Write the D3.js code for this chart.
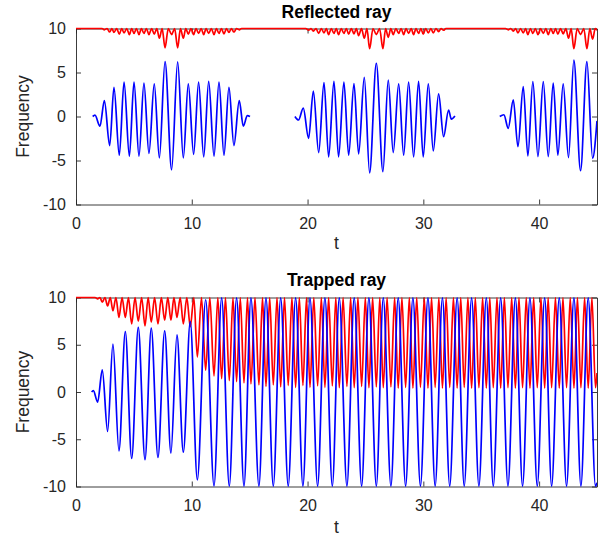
<!DOCTYPE html>
<html><head><meta charset="utf-8">
<script src="https://cdn.jsdelivr.net/npm/d3@7/dist/d3.min.js"></script>
<style>body{margin:0;background:#fff}svg{display:block}</style>
</head><body><svg id="c" width="608" height="543"></svg>
<script>
// ---------- data ----------
const xTicks = [0, 10, 20, 30, 40];
const yTicks = [-10, -5, 0, 5, 10];
const xDomain = [0, 45];
const yDomain = [-10, 10];
const titles = ["Reflected ray", "Trapped ray"];
const xLabel = "t";
const yLabel = "Frequency";

// Reflected ray: blue (three wave packets), extrema
const topBlueT1 = [1.44,1.64,2.07,2.45,2.91,3.28,3.74,4.15,4.61,5.01,5.44,5.87,6.30,6.76,7.20,7.69,8.26,8.78,9.27,9.70,10.16,10.59,11.03,11.46,11.92,12.35,12.78,13.21,13.64,14.10,14.45,14.80,15.03];
const topBlueV1 = [0,0.15,-1.1,1.8,-3.3,3.3,-4.4,3.9,-4.5,3.9,-4.5,3.8,-4.2,3.7,-4.7,6.25,-6.05,6.2,-4.7,3.7,-4.3,3.9,-4.6,4.0,-4.5,3.9,-4.4,3.3,-3.3,1.8,-1.1,0.1,0];
const topBlueT2 = [18.91,19.22,19.63,20.09,20.50,20.96,21.42,21.82,22.28,22.68,23.14,23.55,24.01,24.41,24.90,25.36,25.94,26.51,26.97,27.40,27.87,28.30,28.73,29.16,29.59,29.99,30.43,30.86,31.32,31.75,32.18,32.42,32.73];
const topBlueV2 = [0,-0.4,0.95,-2.48,2.9,-4.1,3.85,-4.6,4.0,-4.6,3.9,-4.4,3.73,-4.26,4.45,-6.4,6.05,-6.27,4.15,-4.1,3.7,-4.4,3.9,-4.6,4.0,-4.6,3.7,-3.9,2.56,-2.3,0.74,-0.3,0.05];
const topBlueT3 = [36.60,36.96,37.33,37.77,38.17,38.63,39.03,39.46,39.90,40.36,40.79,41.22,41.62,42.08,42.54,43.00,43.58,44.13,44.62,45.0];
const topBlueV3 = [0,0.2,-1.34,1.88,-3.43,3.39,-4.49,3.97,-4.55,3.97,-4.55,3.8,-4.4,3.7,-4.68,6.42,-6.16,6.23,-4.75,-0.5];

// Reflected ray: red
const topRedT = [0,2.25,2.45,2.68,2.91,3.10,3.28,3.51,3.74,3.95,4.15,4.38,4.61,4.81,5.01,5.22,5.44,5.65,5.87,6.08,6.30,6.53,6.76,6.98,7.20,7.44,7.69,7.97,8.26,8.52,8.78,9.02,9.27,9.48,9.70,9.93,10.16,10.37,10.59,10.81,11.03,11.24,11.46,11.69,11.92,12.13,12.35,12.56,12.78,13.0,13.21,13.42,13.64,13.87,14.10,14.3,
  19.85,20.09,20.30,20.50,20.73,20.96,21.19,21.42,21.62,21.82,22.05,22.28,22.48,22.68,22.91,23.14,23.35,23.55,23.78,24.01,24.21,24.41,24.66,24.90,25.13,25.36,25.65,25.94,26.22,26.51,26.74,26.97,27.19,27.40,27.63,27.87,28.08,28.30,28.51,28.73,28.95,29.16,29.37,29.59,29.79,29.99,30.21,30.43,30.65,30.86,31.09,31.32,31.53,31.75,31.95,
  37.10,37.33,37.55,37.77,37.97,38.17,38.40,38.63,38.83,39.03,39.25,39.46,39.68,39.90,40.13,40.36,40.58,40.79,41.01,41.22,41.42,41.62,41.85,42.08,42.31,42.54,42.77,43.00,43.29,43.58,43.86,44.13,44.38,44.62,44.85,45.0];
const topRedV = [10,10,9.85,10,9.6,10,9.55,10,9.35,10,9.5,10,9.3,10,9.45,10,9.3,10,9.45,10,9.3,10,9.35,10,8.9,10,7.8,10,9.3,10,7.8,10,8.9,10,9.35,10,9.3,10,9.45,10,9.3,10,9.45,10,9.3,10,9.45,10,9.4,10,9.55,10,9.6,10,9.85,10,
  10,9.8,10,9.7,10,9.45,10,9.5,10,9.3,10,9.45,10,9.3,10,9.45,10,9.35,10,9.4,10,9.2,10,8.9,10,7.7,10,9.3,10,7.7,10,9.0,10,9.3,10,9.45,10,9.3,10,9.45,10,9.3,10,9.45,10,9.35,10,9.5,10,9.5,10,9.65,10,9.8,10,
  10,9.85,10,9.7,10,9.5,10,9.5,10,9.3,10,9.45,10,9.3,10,9.45,10,9.3,10,9.45,10,9.35,10,9.4,10,8.9,10,7.7,10,9.3,10,7.7,10,8.8,10,9.8];

// Trapped ray: blue
const botBlueT = [1.35,1.50,1.87,2.27,2.73,3.19,3.71,4.26,4.81,5.38,5.96,6.50,7.08,7.66,8.20,8.72,9.27,9.87,10.48,11.20,11.92,12.58,13.24,13.87,14.51,15.11,15.80,16.41,17.04,17.68,18.33,18.97,19.60,20.21,20.87,21.50,22.14,22.74,23.40,24.03,24.67,25.30,25.94,26.54,27.20,27.83,28.47,29.10,29.75,30.40,31.02,31.65,32.28,32.92,33.53,34.17,34.80,35.44,36.04,36.68,37.31,37.95,38.57,39.21,39.84,40.48,41.08,41.74,42.37,43.01,43.61,44.24,44.87,45.0];
const botBlueV = [0,0.15,-1.07,2.35,-4.18,5.07,-6.22,6.4,-7.03,6.83,-7.17,6.76,-6.93,6.48,-6.47,6.05,-6.37,7.46,-9.29,9.76,-9.93,9.95,-9.95,9.95,-9.95,9.95,-9.95,9.95,-9.95,9.95,-9.95,9.95,-9.95,9.95,-9.95,9.95,-9.95,9.95,-9.95,9.95,-9.95,9.95,-9.95,9.95,-9.95,9.95,-9.95,9.95,-9.95,9.95,-9.95,9.95,-9.95,9.95,-9.95,9.95,-9.95,9.95,-9.95,9.95,-9.95,9.95,-9.95,9.95,-9.95,9.95,-9.95,9.95,-9.95,9.95,-9.95,9.95,-9.95,-9.6];

// Trapped ray: red
const botRedT = [0,1.65,1.87,2.07,2.27,2.50,2.73,2.96,3.19,3.45,3.71,3.98,4.26,4.53,4.81,5.10,5.38,5.67,5.96,6.23,6.50,6.79,7.08,7.37,7.66,7.93,8.20,8.46,8.72,9.00,9.27,9.57,9.87,10.18,10.48,10.84,11.20,11.56,11.92,12.25,12.58,12.91,13.24,13.56,13.87,14.19,14.51,14.81,15.11,15.46,15.80,16.11,16.41,16.73,17.04,17.36,17.68,18.01,18.33,18.65,18.97,19.29,19.60,19.91,20.21,20.54,20.87,21.19,21.50,21.82,22.14,22.44,22.74,23.07,23.40,23.72,24.03,24.35,24.67,24.99,25.30,25.62,25.94,26.24,26.54,26.87,27.20,27.52,27.83,28.15,28.47,28.79,29.10,29.43,29.75,30.08,30.40,30.71,31.02,31.34,31.65,31.97,32.28,32.60,32.92,33.23,33.53,33.85,34.17,34.49,34.80,35.12,35.44,35.74,36.04,36.36,36.68,37.00,37.31,37.63,37.95,38.26,38.57,38.89,39.21,39.53,39.84,40.16,40.48,40.78,41.08,41.41,41.74,42.06,42.37,42.69,43.01,43.31,43.61,43.93,44.24,44.56,44.87,45.0];
const botRedV = [10,10,9.85,10,9.5,10,9.1,10,8.6,10,7.9,10,7.9,10,7.2,10,7.5,10,7.0,10,7.4,10,7.2,10,7.6,10,7.6,10,7.9,10,7.2,10,6.9,10,3.7,10,2.3,10,1.7,10,1.4,10,1.2,10,1.1,10,0.95,10,0.85,10,0.75,10,0.6,10,0.75,10,0.55,10,0.7,10,0.5,10,0.7,10,0.5,10,0.65,10,0.5,10,0.65,10,0.45,10,0.6,10,0.45,10,0.6,10,0.45,10,0.55,10,0.45,10,0.55,10,0.4,10,0.5,10,0.4,10,0.5,10,0.4,10,0.5,10,0.4,10,0.5,10,0.4,10,0.5,10,0.4,10,0.45,10,0.4,10,0.45,10,0.4,10,0.45,10,0.4,10,0.45,10,0.4,10,0.45,10,0.4,10,0.45,10,0.4,10,0.45,10,0.4,10,0.45,10,0.4,10,0.45,2.0];

// ---------- drawing ----------
const svg = d3.select("#c");
const FONT = "'Liberation Sans', Arial, Helvetica, sans-serif";
const AX = "#262626";
const line = (x, y) => d3.line().x(d => x(d[0])).y(d => y(d[1])).curve(d3.curveMonotoneX);
const zip = (T, V) => T.map((t, i) => [t, V[i]]);
const fmt = d => String(d);

const panels = [
  {box:{l:76,r:597,t:28.5,b:204.5}, blue:[zip(topBlueT1,topBlueV1),zip(topBlueT2,topBlueV2),zip(topBlueT3,topBlueV3)], red:zip(topRedT,topRedV), title:titles[0], titleY:18, tickY:229, labY:249},
  {box:{l:76,r:597,t:297.5,b:486.5}, blue:[zip(botBlueT,botBlueV)], red:zip(botRedT,botRedV), title:titles[1], titleY:286, tickY:511, labY:533}
];

panels.forEach((p, k) => {
  const b = p.box;
  const x = d3.scaleLinear().domain(xDomain).range([b.l, b.r]);
  const y = d3.scaleLinear().domain(yDomain).range([b.b, b.t]);
  const g = svg.append("g");
  const cid = "clip" + k;
  svg.append("clipPath").attr("id", cid).append("rect")
    .attr("x", b.l).attr("y", b.t - 1.5).attr("width", b.r - b.l).attr("height", b.b - b.t + 3);

  const styleAxis = sel => {
    sel.attr("font-size", null).attr("font-family", null);
    sel.select(".domain").attr("stroke", AX).attr("stroke-width", 0.9);
    sel.selectAll(".tick line").attr("stroke", AX).attr("stroke-width", 0.9);
    sel.selectAll("text").attr("fill", AX).style("font-family", FONT).style("font-size", "16px");
  };
  const xb = g.append("g").attr("transform", `translate(0,${b.b})`)
    .call(d3.axisBottom(x).tickValues(xTicks).tickSize(-5).tickSizeOuter(0).tickPadding(10).tickFormat(fmt))
    .call(styleAxis);
  xb.selectAll(".tick text").attr("dy", null).attr("y", p.tickY - b.b);
  g.append("g").attr("transform", `translate(0,${b.t})`)
    .call(d3.axisTop(x).tickValues(xTicks).tickSize(-5).tickSizeOuter(0).tickFormat(""))
    .call(styleAxis);
  g.append("g").attr("transform", `translate(${b.l},0)`)
    .call(d3.axisLeft(y).tickValues(yTicks).tickSize(-5).tickSizeOuter(0).tickPadding(10).tickFormat(fmt))
    .call(styleAxis);
  g.append("g").attr("transform", `translate(${b.r},0)`)
    .call(d3.axisRight(y).tickValues(yTicks).tickSize(-5).tickSizeOuter(0).tickFormat(""))
    .call(styleAxis);

  const L = line(x, y);
  const lg = svg.append("g").attr("clip-path", `url(#${cid})`);
  lg.append("path").datum(p.red).attr("d", L).attr("fill", "none").attr("stroke", "#ff0000").attr("stroke-width", 1.7);
  p.blue.forEach(seg => lg.append("path").datum(seg).attr("d", L).attr("fill", "none").attr("stroke", "#0000ff").attr("stroke-width", 1.7));

  svg.append("text").attr("x", (b.l + b.r) / 2).attr("y", p.titleY).attr("text-anchor", "middle")
    .style("font-family", FONT).style("font-weight", "bold").style("font-size", "17.5px").attr("fill", "#000").text(p.title);
  svg.append("text").attr("x", (b.l + b.r) / 2).attr("y", p.labY).attr("text-anchor", "middle")
    .style("font-family", FONT).style("font-size", "17.5px").attr("fill", AX).text(xLabel);
  svg.append("text").attr("transform", `translate(29,${(b.t + b.b) / 2}) rotate(-90)`).attr("text-anchor", "middle")
    .style("font-family", FONT).style("font-size", "17.5px").attr("fill", AX).text(yLabel);
});
</script></body></html>
